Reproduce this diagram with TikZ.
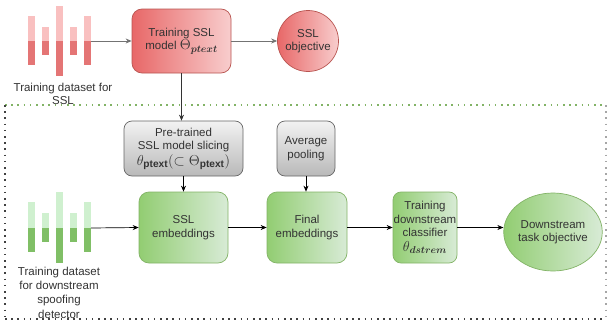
\documentclass[tikz,border=0pt]{standalone}
\usepackage{amsmath,amssymb}
\usepackage{fontspec}
\setmainfont{Liberation Sans}
\usetikzlibrary{arrows.meta,shapes.geometric,calc}
\definecolor{redL}{HTML}{E86868}
\definecolor{redR}{HTML}{F8CDCD}
\definecolor{redB}{HTML}{B85450}
\definecolor{grnL}{HTML}{92CD72}
\definecolor{grnR}{HTML}{D8EBD6}
\definecolor{grnB}{HTML}{82B366}
\definecolor{gryT}{HTML}{F2F2F2}
\definecolor{gryB}{HTML}{B9B9B9}
\definecolor{gryE}{HTML}{666666}
\definecolor{barRL}{HTML}{F9C0C0}
\definecolor{barRD}{HTML}{E47575}
\definecolor{barGL}{HTML}{CFF0CF}
\definecolor{barGD}{HTML}{80BF66}
\definecolor{txt}{HTML}{333333}
\newcommand{\bigmath}[1]{{\fontsize{14.5}{14}\selectfont$#1$}}
\tikzset{
  every node/.style={font=\fontsize{11.5}{13.5}\selectfont, text=txt, align=center, inner sep=0pt},
  redbox/.style={draw=redB, line width=0.7pt, rounded corners=10pt, left color=redL, right color=redR},
  grnbox/.style={draw=grnB, line width=0.7pt, rounded corners=10pt, left color=grnL, right color=grnR},
  grybox/.style={draw=gryE, line width=0.7pt, rounded corners=8pt, top color=gryT, bottom color=gryB},
  conn/.style={line width=0.7pt, -{Stealth[length=6pt,width=5pt]}},
  gconn/.style={conn, draw=gray!90!black},
  dotln/.style={line width=1.6pt, dash pattern=on 1.6pt off 4.6pt},
}
\begin{document}
\begin{tikzpicture}[x=1pt,y=-1pt]
\useasboundingbox (0,0) rectangle (608,324);
% dotted frame
\draw[dotln, draw=grnB] (5,105) -- (606,105);
\draw[dotln, draw=gray!70] (606,105) -- (606,319);
\draw[dotln, draw=black!75] (5,319) -- (606,319);
\draw[dotln, draw=black!75] (5,105) -- (5,319);
% red waveform
\foreach \xa/\ya/\yb in {28/16/65, 42/27/55, 56/6/76, 70/27/55, 84/16/65}{
  \fill[barRL] (\xa,\ya) rectangle (\xa+7,41);
  \fill[barRD] (\xa,41) rectangle (\xa+7,\yb);
}
\coordinate (wavR) at (91,41);
% green waveform
\foreach \xa/\ya/\yb in {28/202/252, 42/213/242, 56/192/263, 70/213/242, 84/202/252}{
  \fill[barGL] (\xa,\ya) rectangle (\xa+7,228);
  \fill[barGD] (\xa,228) rectangle (\xa+7,\yb);
}
\coordinate (wavG) at (91,228);
% labels
\node (lblR) at (63,94) {Training dataset for\\SSL};
\node[font=\fontsize{11.5}{14.3}\selectfont] (lblG) at (59,292.5) {Training dataset\\for downstream\\spoofing\\detector};
% nodes
\node[redbox, minimum width=99pt, minimum height=64pt] (train) at (181.5,41) {Training SSL\\model \bigmath{\Theta_{\boldsymbol{ptext}}}};
\node[draw=redB, line width=0.7pt, circle, left color=redL, right color=redR, minimum size=61pt] (sslobj) at (308,41) {SSL\\objective};
\node[grybox, minimum width=119pt, minimum height=55pt] (slice) at (183.5,148.5) {Pre-trained\\SSL model slicing\\[2pt]\bigmath{\theta_{\mathbf{ptext}}(\subset \Theta_{\mathbf{ptext}})}};
\node[grybox, minimum width=58pt, minimum height=55pt] (pool) at (306,148.5) {Average\\pooling};
\node[grnbox, minimum width=89pt, minimum height=71pt] (sslemb) at (183.5,227.5) {SSL\\embeddings};
\node[grnbox, minimum width=80pt, minimum height=71pt] (final) at (307,227.5) {Final\\embeddings};
\node[grnbox, rounded corners=8pt, minimum width=64pt, minimum height=71pt] (cls) at (425,227.5) {Training\\downstream\\classifier\\[1pt]\bigmath{\theta_{\boldsymbol{dstrem}}}};
\node[draw=grnB, line width=0.7pt, ellipse, left color=grnL, right color=grnR, minimum width=80pt, minimum height=78pt] (dsobj) at (553,232) {Downstream\\task objective};
% connectors
\draw[gconn] (wavR) -- (train.west);
\draw[gconn] (train.east) -- (sslobj.west);
\draw[conn, draw=black!80] (train.south) -- (train.south |- slice.north);
\draw[conn] (slice.south) -- (sslemb.north);
\draw[conn] (pool.south) -- (pool.south |- final.north);
\draw[conn] (wavG) -- (sslemb.west);
\draw[conn] (sslemb.east) -- (final.west);
\draw[conn] (final.east) -- (cls.west);
\draw[conn] (cls.east) -- (dsobj.west |- cls.east);
\end{tikzpicture}
\end{document}
